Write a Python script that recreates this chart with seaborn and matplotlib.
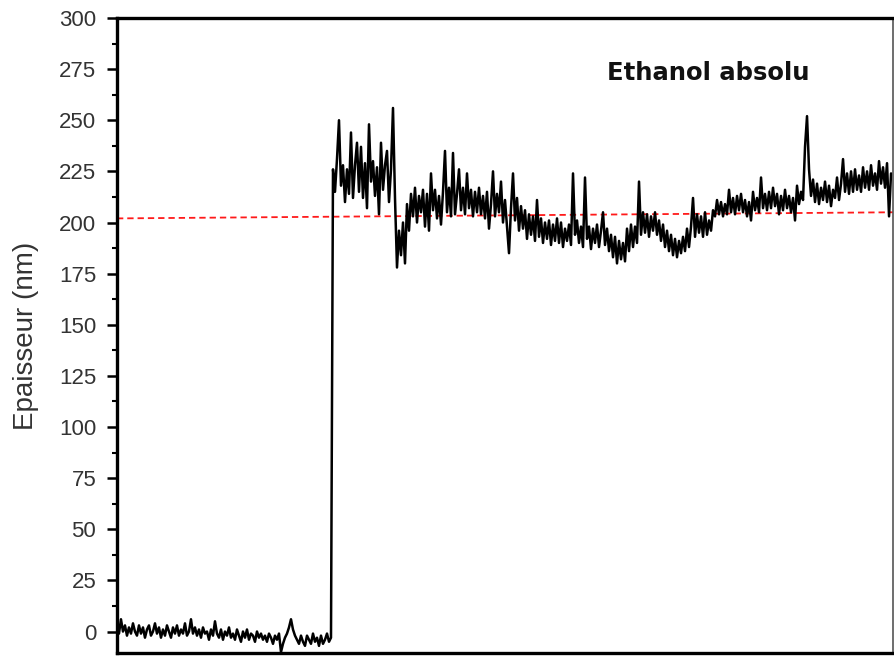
import numpy as np
import pandas as pd
import matplotlib
matplotlib.use("Agg")
import matplotlib.pyplot as plt
import seaborn as sns

# Film thickness (nm) recorded over time, one sample per time step.
# Bare substrate before the ethanol injection.
thickness_before = [
    2, -1, 6, 0, 3, -2, 2, -1, 4, 0, -2, 3, -1, 2, -3, 1, 3, -2, 0, 4,
    -1, 2, -3, 1, -2, 3, 0, -3, 2, -1, 3, -2, 1, -1, 4, -2, 0, 6, -1, 2, -2, 1,
    -3, 2, -1, 0, -4, 1, -2, 5, -1, -3, 1, -4, 0, -2, 2, -3, -1, -4, 1, -2,
    -5, 0, -3, 1, -4, -1, -2, -5, 0, -3, -1, -4, -2, -5, -1, -3, -6, -2, -4, -1,
    -10, -6, -3, -1, 2, 6, 1, -2, -4, -6, -2, -5, -7, -2, -4, -6, -1, -5, -3, -7,
    -2, -6, -4, -1, -5, -3,
]
# Swollen film in absolute ethanol.
thickness_after = [
    226, 215, 231, 250, 218, 228, 210, 226, 214, 244, 212, 228, 239, 215, 237, 212,
    229, 207, 248, 220, 230, 213, 227, 204, 239, 216, 228, 235, 210, 226, 256,
    212, 178, 196, 184, 200, 180, 209, 196, 214, 203, 217, 200, 213, 205, 216, 198,
    214, 196, 224, 206, 216, 202, 213, 199, 215, 235,
    205, 217, 203, 234, 204, 214, 226, 206, 217, 204, 224, 207, 216, 203, 215, 205,
    217, 204, 213, 202, 215, 197, 209, 225, 203, 214, 205, 220, 200, 211, 198, 185, 207,
    224, 201, 212, 196, 208, 197, 206, 192, 204, 194, 203, 191, 211, 193, 202, 190,
    200, 192, 201, 189, 199, 191, 202,
    190, 200, 188, 197, 191, 199, 189, 224, 194, 201, 190, 198, 188, 222, 192, 198,
    187, 197, 190, 199, 188, 196, 205, 189, 197, 186, 194,
    183, 193, 180, 191, 182, 190, 181, 197, 186, 199, 188, 198, 190, 220, 194, 205,
    195, 204, 193, 203, 196, 205, 194, 201, 191,
    199, 188, 196, 186, 194, 184, 192, 183, 191, 185, 193, 186, 197, 188, 198,
    212, 193, 204, 195, 203, 193, 205, 194, 201, 196, 206, 203, 211, 204, 210, 203, 209, 204,
    216, 205, 212, 204, 213, 206, 214, 205, 211, 203, 210, 201, 215, 206, 212, 205,
    222, 207, 214, 206, 215, 207, 217, 208, 214, 204, 213, 206, 216, 207, 213, 205,
    212, 201, 218, 209, 215, 211,
    237, 252, 226, 213, 221, 210, 219, 209, 217, 211, 220, 210, 218, 208, 216, 212,
    222, 211, 219, 231, 215, 224, 214, 225, 215, 226, 216, 223, 215, 227, 217, 225,
    216, 228, 218, 224, 216, 230, 219, 227, 217, 229, 203, 224,
]
# Reference thickness level (dashed line) at the start and end of the record.
reference_level = [202, 205]

ylabel_text = "Epaisseur (nm)"
annotation_text = "Ethanol absolu"
ytick_values = list(range(0, 301, 25))

thickness = thickness_before + thickness_after
df = pd.DataFrame({"time": np.arange(len(thickness)), "thickness": thickness})
t_end = len(thickness)
ref_df = pd.DataFrame({"time": [0, t_end], "thickness": reference_level})

sns.set_style("ticks")
plt.rcParams["font.family"] = ["Liberation Sans", "DejaVu Sans"]

fig = plt.figure(figsize=(8.95, 6.66), dpi=100)
ax = fig.add_axes([0.1307, 0.0195, 0.8671, 0.9535])

sns.lineplot(data=ref_df, x="time", y="thickness", ax=ax, color="#ff1a1a",
             linewidth=1.3, estimator=None)
ax.lines[-1].set_dashes((3.5, 2.2))
sns.lineplot(data=df, x="time", y="thickness", ax=ax, color="black",
             linewidth=1.8, estimator=None, sort=False)

ax.set_xlim(0, t_end)
ax.set_ylim(-10.5, 300)
ax.set_yticks(ytick_values)
ax.set_yticks(np.arange(12.5, 300, 25), minor=True)
ax.set_xticks([])
ax.set_xlabel("")
ax.set_ylabel(ylabel_text, fontsize=20, color="#333333", labelpad=14)

ax.tick_params(axis="y", which="major", direction="out", length=7, width=1.8,
               labelsize=16, labelcolor="#333333", pad=8, color="black")
ax.tick_params(axis="y", which="minor", direction="out", length=3.5, width=1.5, color="black")

for side in ["left", "top", "bottom"]:
    ax.spines[side].set_linewidth(2.4)
    ax.spines[side].set_color("black")
ax.spines["right"].set_linewidth(1.2)
ax.spines["right"].set_color("#555555")
ax.spines["right"].set_visible(True)
ax.spines["top"].set_visible(True)

ax.text(0.632, 0.913, annotation_text, transform=ax.transAxes, fontsize=17.5,
        fontweight="bold", family="DejaVu Sans", color="#111111",
        ha="left", va="center")

fig.savefig("out.png", dpi=100)
